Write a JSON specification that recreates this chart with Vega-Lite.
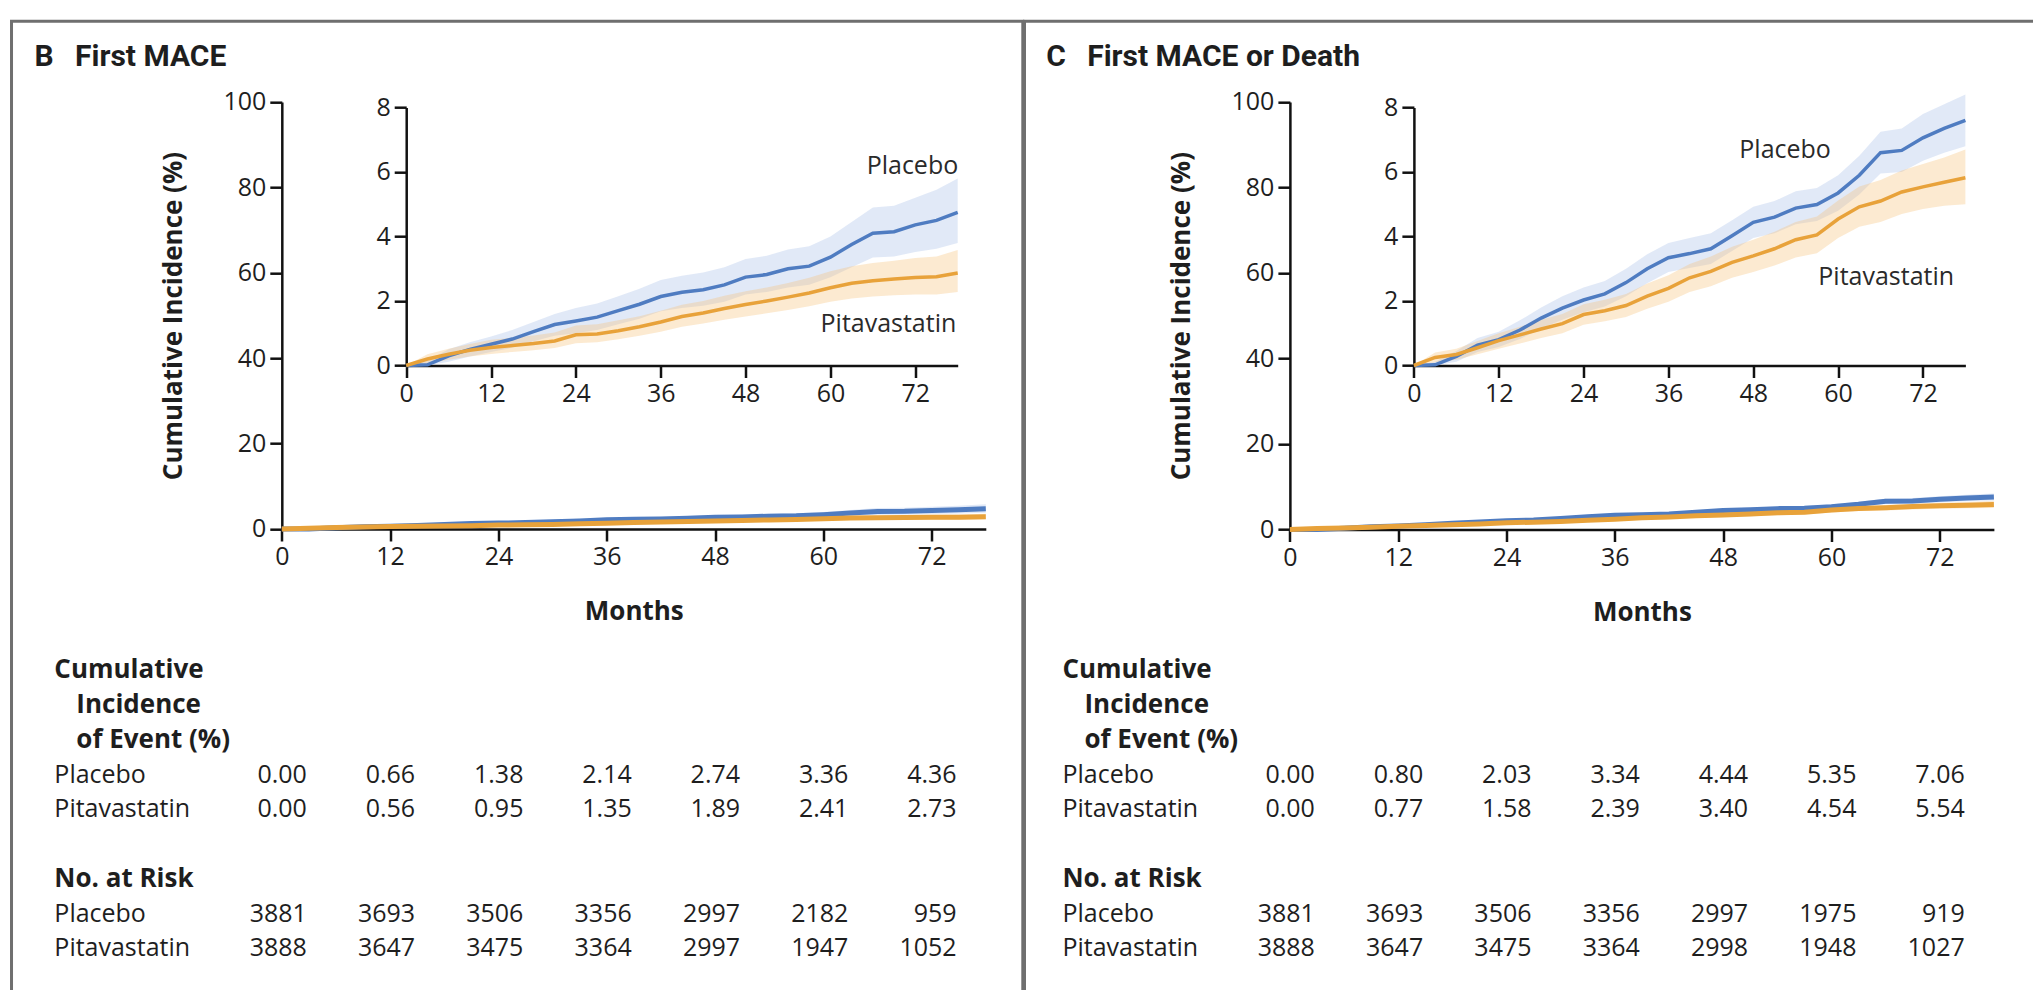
{
  "$schema": "https://vega.github.io/schema/vega-lite/v6.json",
  "background": "white",
  "padding": {"left": 9.5, "top": 19.2, "right": 0, "bottom": 0},
  "spacing": -3,
  "datasets": {
    "titles": [
      {"panel":"B","title":"B\u2002\u2009First MACE"},
      {"panel":"C","title":"C\u2002\u2009First MACE or Death"}
    ],
    "curves": [
      {"panel":"B","group":"Placebo","month":0,"v":0,"lo":0,"hi":0},
      {"panel":"B","group":"Placebo","month":3,"v":0.02,"lo":0,"hi":0.15},
      {"panel":"B","group":"Placebo","month":6,"v":0.3,"lo":0.12,"hi":0.5},
      {"panel":"B","group":"Placebo","month":9,"v":0.5,"lo":0.28,"hi":0.72},
      {"panel":"B","group":"Placebo","month":12,"v":0.66,"lo":0.42,"hi":0.9},
      {"panel":"B","group":"Placebo","month":15,"v":0.82,"lo":0.55,"hi":1.1},
      {"panel":"B","group":"Placebo","month":18,"v":1.05,"lo":0.75,"hi":1.35},
      {"panel":"B","group":"Placebo","month":21,"v":1.27,"lo":0.92,"hi":1.6},
      {"panel":"B","group":"Placebo","month":24,"v":1.38,"lo":1.0,"hi":1.78},
      {"panel":"B","group":"Placebo","month":27,"v":1.5,"lo":1.1,"hi":1.92},
      {"panel":"B","group":"Placebo","month":30,"v":1.7,"lo":1.28,"hi":2.15},
      {"panel":"B","group":"Placebo","month":33,"v":1.9,"lo":1.45,"hi":2.38},
      {"panel":"B","group":"Placebo","month":36,"v":2.14,"lo":1.68,"hi":2.65},
      {"panel":"B","group":"Placebo","month":39,"v":2.27,"lo":1.78,"hi":2.78},
      {"panel":"B","group":"Placebo","month":42,"v":2.35,"lo":1.85,"hi":2.88},
      {"panel":"B","group":"Placebo","month":45,"v":2.5,"lo":1.98,"hi":3.05},
      {"panel":"B","group":"Placebo","month":48,"v":2.74,"lo":2.2,"hi":3.3},
      {"panel":"B","group":"Placebo","month":51,"v":2.82,"lo":2.28,"hi":3.4},
      {"panel":"B","group":"Placebo","month":54,"v":3.0,"lo":2.42,"hi":3.6},
      {"panel":"B","group":"Placebo","month":57,"v":3.08,"lo":2.5,"hi":3.7},
      {"panel":"B","group":"Placebo","month":60,"v":3.36,"lo":2.74,"hi":4.0},
      {"panel":"B","group":"Placebo","month":63,"v":3.75,"lo":3.05,"hi":4.45},
      {"panel":"B","group":"Placebo","month":66,"v":4.1,"lo":3.35,"hi":4.9},
      {"panel":"B","group":"Placebo","month":69,"v":4.15,"lo":3.38,"hi":4.95},
      {"panel":"B","group":"Placebo","month":72,"v":4.36,"lo":3.52,"hi":5.2},
      {"panel":"B","group":"Placebo","month":75,"v":4.5,"lo":3.62,"hi":5.45},
      {"panel":"B","group":"Placebo","month":78,"v":4.75,"lo":3.8,"hi":5.8},
      {"panel":"B","group":"Pitavastatin","month":0,"v":0,"lo":0,"hi":0},
      {"panel":"B","group":"Pitavastatin","month":3,"v":0.2,"lo":0.06,"hi":0.35},
      {"panel":"B","group":"Pitavastatin","month":6,"v":0.35,"lo":0.18,"hi":0.52},
      {"panel":"B","group":"Pitavastatin","month":9,"v":0.47,"lo":0.28,"hi":0.67},
      {"panel":"B","group":"Pitavastatin","month":12,"v":0.56,"lo":0.36,"hi":0.8},
      {"panel":"B","group":"Pitavastatin","month":15,"v":0.62,"lo":0.42,"hi":0.86},
      {"panel":"B","group":"Pitavastatin","month":18,"v":0.68,"lo":0.47,"hi":0.93},
      {"panel":"B","group":"Pitavastatin","month":21,"v":0.76,"lo":0.54,"hi":1.02},
      {"panel":"B","group":"Pitavastatin","month":24,"v":0.95,"lo":0.69,"hi":1.24},
      {"panel":"B","group":"Pitavastatin","month":27,"v":0.98,"lo":0.72,"hi":1.28},
      {"panel":"B","group":"Pitavastatin","month":30,"v":1.08,"lo":0.81,"hi":1.4},
      {"panel":"B","group":"Pitavastatin","month":33,"v":1.2,"lo":0.92,"hi":1.53},
      {"panel":"B","group":"Pitavastatin","month":36,"v":1.35,"lo":1.05,"hi":1.7},
      {"panel":"B","group":"Pitavastatin","month":39,"v":1.52,"lo":1.2,"hi":1.88},
      {"panel":"B","group":"Pitavastatin","month":42,"v":1.63,"lo":1.3,"hi":2.0},
      {"panel":"B","group":"Pitavastatin","month":45,"v":1.77,"lo":1.42,"hi":2.16},
      {"panel":"B","group":"Pitavastatin","month":48,"v":1.89,"lo":1.52,"hi":2.3},
      {"panel":"B","group":"Pitavastatin","month":51,"v":2.0,"lo":1.62,"hi":2.42},
      {"panel":"B","group":"Pitavastatin","month":54,"v":2.12,"lo":1.72,"hi":2.56},
      {"panel":"B","group":"Pitavastatin","month":57,"v":2.25,"lo":1.84,"hi":2.72},
      {"panel":"B","group":"Pitavastatin","month":60,"v":2.41,"lo":1.98,"hi":2.92},
      {"panel":"B","group":"Pitavastatin","month":63,"v":2.55,"lo":2.08,"hi":3.08},
      {"panel":"B","group":"Pitavastatin","month":66,"v":2.63,"lo":2.14,"hi":3.18},
      {"panel":"B","group":"Pitavastatin","month":69,"v":2.68,"lo":2.18,"hi":3.25},
      {"panel":"B","group":"Pitavastatin","month":72,"v":2.73,"lo":2.2,"hi":3.33},
      {"panel":"B","group":"Pitavastatin","month":75,"v":2.75,"lo":2.2,"hi":3.38},
      {"panel":"B","group":"Pitavastatin","month":78,"v":2.87,"lo":2.28,"hi":3.58},
      {"panel":"C","group":"Placebo","month":0,"v":0,"lo":0,"hi":0},
      {"panel":"C","group":"Placebo","month":3,"v":0.02,"lo":0,"hi":0.12},
      {"panel":"C","group":"Placebo","month":6,"v":0.28,"lo":0.12,"hi":0.45},
      {"panel":"C","group":"Placebo","month":9,"v":0.63,"lo":0.42,"hi":0.85},
      {"panel":"C","group":"Placebo","month":12,"v":0.8,"lo":0.57,"hi":1.05},
      {"panel":"C","group":"Placebo","month":15,"v":1.1,"lo":0.82,"hi":1.4},
      {"panel":"C","group":"Placebo","month":18,"v":1.47,"lo":1.15,"hi":1.8},
      {"panel":"C","group":"Placebo","month":21,"v":1.78,"lo":1.42,"hi":2.15},
      {"panel":"C","group":"Placebo","month":24,"v":2.03,"lo":1.65,"hi":2.42},
      {"panel":"C","group":"Placebo","month":27,"v":2.22,"lo":1.83,"hi":2.62},
      {"panel":"C","group":"Placebo","month":30,"v":2.57,"lo":2.15,"hi":3.0},
      {"panel":"C","group":"Placebo","month":33,"v":3.0,"lo":2.55,"hi":3.45},
      {"panel":"C","group":"Placebo","month":36,"v":3.34,"lo":2.9,"hi":3.8},
      {"panel":"C","group":"Placebo","month":39,"v":3.47,"lo":3.02,"hi":3.95},
      {"panel":"C","group":"Placebo","month":42,"v":3.62,"lo":3.15,"hi":4.1},
      {"panel":"C","group":"Placebo","month":45,"v":4.02,"lo":3.55,"hi":4.5},
      {"panel":"C","group":"Placebo","month":48,"v":4.44,"lo":3.95,"hi":4.92},
      {"panel":"C","group":"Placebo","month":51,"v":4.6,"lo":4.1,"hi":5.1},
      {"panel":"C","group":"Placebo","month":54,"v":4.88,"lo":4.38,"hi":5.4},
      {"panel":"C","group":"Placebo","month":57,"v":4.99,"lo":4.48,"hi":5.5},
      {"panel":"C","group":"Placebo","month":60,"v":5.35,"lo":4.8,"hi":5.9},
      {"panel":"C","group":"Placebo","month":63,"v":5.9,"lo":5.3,"hi":6.5},
      {"panel":"C","group":"Placebo","month":66,"v":6.6,"lo":5.95,"hi":7.25},
      {"panel":"C","group":"Placebo","month":69,"v":6.67,"lo":6.0,"hi":7.35},
      {"panel":"C","group":"Placebo","month":72,"v":7.06,"lo":6.35,"hi":7.8},
      {"panel":"C","group":"Placebo","month":75,"v":7.35,"lo":6.6,"hi":8.1},
      {"panel":"C","group":"Placebo","month":78,"v":7.6,"lo":6.8,"hi":8.4},
      {"panel":"C","group":"Pitavastatin","month":0,"v":0,"lo":0,"hi":0},
      {"panel":"C","group":"Pitavastatin","month":3,"v":0.25,"lo":0.1,"hi":0.4},
      {"panel":"C","group":"Pitavastatin","month":6,"v":0.34,"lo":0.18,"hi":0.52},
      {"panel":"C","group":"Pitavastatin","month":9,"v":0.55,"lo":0.35,"hi":0.76},
      {"panel":"C","group":"Pitavastatin","month":12,"v":0.77,"lo":0.52,"hi":1.0},
      {"panel":"C","group":"Pitavastatin","month":15,"v":0.95,"lo":0.68,"hi":1.2},
      {"panel":"C","group":"Pitavastatin","month":18,"v":1.13,"lo":0.85,"hi":1.42},
      {"panel":"C","group":"Pitavastatin","month":21,"v":1.3,"lo":1.0,"hi":1.6},
      {"panel":"C","group":"Pitavastatin","month":24,"v":1.58,"lo":1.26,"hi":1.9},
      {"panel":"C","group":"Pitavastatin","month":27,"v":1.7,"lo":1.37,"hi":2.04},
      {"panel":"C","group":"Pitavastatin","month":30,"v":1.86,"lo":1.5,"hi":2.22},
      {"panel":"C","group":"Pitavastatin","month":33,"v":2.15,"lo":1.76,"hi":2.54},
      {"panel":"C","group":"Pitavastatin","month":36,"v":2.39,"lo":1.98,"hi":2.8},
      {"panel":"C","group":"Pitavastatin","month":39,"v":2.72,"lo":2.28,"hi":3.15},
      {"panel":"C","group":"Pitavastatin","month":42,"v":2.92,"lo":2.46,"hi":3.38},
      {"panel":"C","group":"Pitavastatin","month":45,"v":3.2,"lo":2.72,"hi":3.68},
      {"panel":"C","group":"Pitavastatin","month":48,"v":3.4,"lo":2.9,"hi":3.9},
      {"panel":"C","group":"Pitavastatin","month":51,"v":3.62,"lo":3.1,"hi":4.15},
      {"panel":"C","group":"Pitavastatin","month":54,"v":3.9,"lo":3.35,"hi":4.45},
      {"panel":"C","group":"Pitavastatin","month":57,"v":4.05,"lo":3.48,"hi":4.62},
      {"panel":"C","group":"Pitavastatin","month":60,"v":4.54,"lo":3.95,"hi":5.12},
      {"panel":"C","group":"Pitavastatin","month":63,"v":4.92,"lo":4.3,"hi":5.55},
      {"panel":"C","group":"Pitavastatin","month":66,"v":5.1,"lo":4.45,"hi":5.75},
      {"panel":"C","group":"Pitavastatin","month":69,"v":5.38,"lo":4.7,"hi":6.05},
      {"panel":"C","group":"Pitavastatin","month":72,"v":5.54,"lo":4.85,"hi":6.25},
      {"panel":"C","group":"Pitavastatin","month":75,"v":5.68,"lo":4.95,"hi":6.45},
      {"panel":"C","group":"Pitavastatin","month":78,"v":5.82,"lo":5.0,"hi":6.7}
    ],
    "curvelabels": [
      {"panel":"B","label":"Placebo","month":71.6,"v":6.2},
      {"panel":"B","label":"Pitavastatin","month":68.2,"v":1.3},
      {"panel":"C","label":"Placebo","month":52.5,"v":6.67},
      {"panel":"C","label":"Pitavastatin","month":66.8,"v":2.74}
    ],
    "rowlabels": [
      {"row":"h1","kind":"header","label":"Cumulative"},
      {"row":"h2","kind":"subheader","label":"Incidence"},
      {"row":"h3","kind":"subheader","label":"of Event (%)"},
      {"row":"ci_p","kind":"group","label":"Placebo"},
      {"row":"ci_s","kind":"group","label":"Pitavastatin"},
      {"row":"h4","kind":"header","label":"No. at Risk"},
      {"row":"nr_p","kind":"group","label":"Placebo"},
      {"row":"nr_s","kind":"group","label":"Pitavastatin"}
    ],
    "table": [
      {"panel":"B","row":"ci_p","month":0,"text":"0.00"},
      {"panel":"B","row":"ci_p","month":12,"text":"0.66"},
      {"panel":"B","row":"ci_p","month":24,"text":"1.38"},
      {"panel":"B","row":"ci_p","month":36,"text":"2.14"},
      {"panel":"B","row":"ci_p","month":48,"text":"2.74"},
      {"panel":"B","row":"ci_p","month":60,"text":"3.36"},
      {"panel":"B","row":"ci_p","month":72,"text":"4.36"},
      {"panel":"B","row":"ci_s","month":0,"text":"0.00"},
      {"panel":"B","row":"ci_s","month":12,"text":"0.56"},
      {"panel":"B","row":"ci_s","month":24,"text":"0.95"},
      {"panel":"B","row":"ci_s","month":36,"text":"1.35"},
      {"panel":"B","row":"ci_s","month":48,"text":"1.89"},
      {"panel":"B","row":"ci_s","month":60,"text":"2.41"},
      {"panel":"B","row":"ci_s","month":72,"text":"2.73"},
      {"panel":"B","row":"nr_p","month":0,"text":"3881"},
      {"panel":"B","row":"nr_p","month":12,"text":"3693"},
      {"panel":"B","row":"nr_p","month":24,"text":"3506"},
      {"panel":"B","row":"nr_p","month":36,"text":"3356"},
      {"panel":"B","row":"nr_p","month":48,"text":"2997"},
      {"panel":"B","row":"nr_p","month":60,"text":"2182"},
      {"panel":"B","row":"nr_p","month":72,"text":"959"},
      {"panel":"B","row":"nr_s","month":0,"text":"3888"},
      {"panel":"B","row":"nr_s","month":12,"text":"3647"},
      {"panel":"B","row":"nr_s","month":24,"text":"3475"},
      {"panel":"B","row":"nr_s","month":36,"text":"3364"},
      {"panel":"B","row":"nr_s","month":48,"text":"2997"},
      {"panel":"B","row":"nr_s","month":60,"text":"1947"},
      {"panel":"B","row":"nr_s","month":72,"text":"1052"},
      {"panel":"C","row":"ci_p","month":0,"text":"0.00"},
      {"panel":"C","row":"ci_p","month":12,"text":"0.80"},
      {"panel":"C","row":"ci_p","month":24,"text":"2.03"},
      {"panel":"C","row":"ci_p","month":36,"text":"3.34"},
      {"panel":"C","row":"ci_p","month":48,"text":"4.44"},
      {"panel":"C","row":"ci_p","month":60,"text":"5.35"},
      {"panel":"C","row":"ci_p","month":72,"text":"7.06"},
      {"panel":"C","row":"ci_s","month":0,"text":"0.00"},
      {"panel":"C","row":"ci_s","month":12,"text":"0.77"},
      {"panel":"C","row":"ci_s","month":24,"text":"1.58"},
      {"panel":"C","row":"ci_s","month":36,"text":"2.39"},
      {"panel":"C","row":"ci_s","month":48,"text":"3.40"},
      {"panel":"C","row":"ci_s","month":60,"text":"4.54"},
      {"panel":"C","row":"ci_s","month":72,"text":"5.54"},
      {"panel":"C","row":"nr_p","month":0,"text":"3881"},
      {"panel":"C","row":"nr_p","month":12,"text":"3693"},
      {"panel":"C","row":"nr_p","month":24,"text":"3506"},
      {"panel":"C","row":"nr_p","month":36,"text":"3356"},
      {"panel":"C","row":"nr_p","month":48,"text":"2997"},
      {"panel":"C","row":"nr_p","month":60,"text":"1975"},
      {"panel":"C","row":"nr_p","month":72,"text":"919"},
      {"panel":"C","row":"nr_s","month":0,"text":"3888"},
      {"panel":"C","row":"nr_s","month":12,"text":"3647"},
      {"panel":"C","row":"nr_s","month":24,"text":"3475"},
      {"panel":"C","row":"nr_s","month":36,"text":"3364"},
      {"panel":"C","row":"nr_s","month":48,"text":"2998"},
      {"panel":"C","row":"nr_s","month":60,"text":"1948"},
      {"panel":"C","row":"nr_s","month":72,"text":"1027"}
    ]
  },
  "hconcat": [
    {
      "width": 1011.3,
      "height": 980,
      "view": {"stroke": "#6f6f6f", "strokeWidth": 3},
      "layer": [
        {
          "layer": [
            {
              "data": {"name": "curves"},
              "transform": [{"filter": "datum.panel === 'B'"}],
              "layer": [
                {
                  "mark": {"type": "area", "fillOpacity": 0.35},
                  "encoding": {
                    "x": {"field": "month", "type": "quantitative", "scale": {"domain": [0, 78], "range": [270.3, 974.3], "nice": false},
                      "axis": {"orient": "bottom", "offset": -472.2, "values": [0, 12, 24, 36, 48, 60, 72], "title": "Months", "titleY": 83, "titleBaseline": "middle"}},
                    "y": {"field": "lo", "type": "quantitative", "scale": {"domain": [0, 100], "range": [507.8, 80.8], "nice": false, "zero": false},
                      "axis": {"orient": "left", "offset": -270.3, "values": [0, 20, 40, 60, 80, 100], "title": "Cumulative Incidence (%)", "titleX": -108.5, "titleY": 294.3, "titleAngle": -90, "titleAlign": "center", "titleBaseline": "middle"}},
                    "y2": {"field": "hi"},
                    "fill": {"field": "group", "type": "nominal", "scale": {"domain": ["Placebo", "Pitavastatin"], "range": ["#a9bfe8", "#f6c27a"]}, "legend": null}
                  }
                },
                {
                  "mark": {"type": "line", "strokeWidth": 5},
                  "encoding": {
                    "x": {"field": "month", "type": "quantitative"},
                    "y": {"field": "v", "type": "quantitative"},
                    "stroke": {"field": "group", "type": "nominal", "scale": {"domain": ["Placebo", "Pitavastatin"], "range": ["#4f7cc1", "#e8a23a"]}, "legend": null}
                  }
                },
                {
                  "data": {"name": "titles"},
                  "transform": [{"filter": "datum.panel === 'B'"}],
                  "mark": {"type": "text", "align": "left", "baseline": "alphabetic", "font": "Roboto", "fontSize": 30, "fontWeight": "bold", "color": "#1e1e1e"},
                  "encoding": {
                    "x": {"datum": -27.4, "type": "quantitative"},
                    "y": {"datum": 108.4, "type": "quantitative"},
                    "text": {"field": "title"}
                  }
                }
              ]
            },
            {
              "data": {"name": "table"},
              "transform": [{"filter": "datum.panel === 'B'"}],
              "mark": {"type": "text", "align": "right", "baseline": "middle", "dx": 25, "font": "Open Sans", "fontSize": 25, "color": "#1e1e1e"},
              "encoding": {
                "x": {"field": "month", "type": "quantitative"},
                "y": {"field": "row", "type": "nominal", "axis": null, "scale": {"type": "point", "domain": ["h1", "h2", "h3", "ci_p", "ci_s", "gap", "h4", "nr_p", "nr_s"], "range": [649.3, 927.3], "padding": 0}},
                "text": {"field": "text"}
              }
            },
            {
              "data": {"name": "rowlabels"},
              "transform": [{"filter": "datum.kind === 'group'"}],
              "mark": {"type": "text", "align": "left", "baseline": "middle", "font": "Open Sans", "fontSize": 25, "color": "#1e1e1e"},
              "encoding": {
                "x": {"datum": -25.2, "type": "quantitative"},
                "y": {"field": "row", "type": "nominal", "axis": null, "scale": {"type": "point", "domain": ["h1", "h2", "h3", "ci_p", "ci_s", "gap", "h4", "nr_p", "nr_s"], "range": [649.3, 927.3], "padding": 0}},
                "text": {"field": "label"}
              }
            },
            {
              "data": {"name": "rowlabels"},
              "transform": [{"filter": "datum.kind === 'header'"}],
              "mark": {"type": "text", "align": "left", "baseline": "middle", "font": "Open Sans", "fontSize": 26, "fontWeight": "bold", "color": "#1e1e1e"},
              "encoding": {
                "x": {"datum": -25.2, "type": "quantitative"},
                "y": {"field": "row", "type": "nominal", "axis": null, "scale": {"type": "point", "domain": ["h1", "h2", "h3", "ci_p", "ci_s", "gap", "h4", "nr_p", "nr_s"], "range": [649.3, 927.3], "padding": 0}},
                "text": {"field": "label"}
              }
            },
            {
              "data": {"name": "rowlabels"},
              "transform": [{"filter": "datum.kind === 'subheader'"}],
              "mark": {"type": "text", "align": "left", "baseline": "middle", "dx": 22, "font": "Open Sans", "fontSize": 26, "fontWeight": "bold", "color": "#1e1e1e"},
              "encoding": {
                "x": {"datum": -25.2, "type": "quantitative"},
                "y": {"field": "row", "type": "nominal", "axis": null, "scale": {"type": "point", "domain": ["h1", "h2", "h3", "ci_p", "ci_s", "gap", "h4", "nr_p", "nr_s"], "range": [649.3, 927.3], "padding": 0}},
                "text": {"field": "label"}
              }
            }
          ],
          "resolve": {"scale": {"y": "independent"}, "axis": {"y": "independent"}}
        },
        {
          "layer": [
            {
              "data": {"name": "curves"},
              "transform": [{"filter": "datum.panel === 'B'"}],
              "layer": [
                {
                  "mark": {"type": "area", "fillOpacity": 0.35},
                  "encoding": {
                    "x": {"field": "month", "type": "quantitative", "scale": {"domain": [0, 78], "range": [394.7, 946.2], "nice": false},
                      "axis": {"orient": "bottom", "offset": -635.7, "values": [0, 12, 24, 36, 48, 60, 72], "title": null}},
                    "y": {"field": "lo", "type": "quantitative", "scale": {"domain": [0, 8], "range": [344.3, 86.3], "nice": false, "zero": false},
                      "axis": {"orient": "left", "offset": -394.7, "values": [0, 2, 4, 6, 8], "format": "d", "title": null}},
                    "y2": {"field": "hi"},
                    "fill": {"field": "group", "type": "nominal", "scale": {"domain": ["Placebo", "Pitavastatin"], "range": ["#a9bfe8", "#f6c27a"]}, "legend": null}
                  }
                },
                {
                  "mark": {"type": "line", "strokeWidth": 3.5},
                  "encoding": {
                    "x": {"field": "month", "type": "quantitative"},
                    "y": {"field": "v", "type": "quantitative"},
                    "stroke": {"field": "group", "type": "nominal", "scale": {"domain": ["Placebo", "Pitavastatin"], "range": ["#4f7cc1", "#e8a23a"]}, "legend": null}
                  }
                }
              ]
            },
            {
              "data": {"name": "curvelabels"},
              "transform": [{"filter": "datum.panel === 'B'"}],
              "mark": {"type": "text", "align": "center", "baseline": "middle", "font": "Open Sans", "fontSize": 25, "color": "#2a2a2a"},
              "encoding": {
                "x": {"field": "month", "type": "quantitative"},
                "y": {"field": "v", "type": "quantitative"},
                "text": {"field": "label"}
              }
            }
          ]
        }
      ],
      "resolve": {"scale": {"x": "independent", "y": "independent"}, "axis": {"x": "independent", "y": "independent"}}
    },
    {
      "width": 1011,
      "height": 980,
      "view": {"stroke": "#6f6f6f", "strokeWidth": 3},
      "layer": [
        {
          "layer": [
            {
              "data": {"name": "curves"},
              "transform": [{"filter": "datum.panel === 'C'"}],
              "layer": [
                {
                  "mark": {"type": "area", "fillOpacity": 0.35},
                  "encoding": {
                    "x": {"field": "month", "type": "quantitative", "scale": {"domain": [0, 78], "range": [265.4, 969.4], "nice": false},
                      "axis": {"orient": "bottom", "offset": -471.7, "values": [0, 12, 24, 36, 48, 60, 72], "title": "Months", "titleY": 83, "titleBaseline": "middle"}},
                    "y": {"field": "lo", "type": "quantitative", "scale": {"domain": [0, 100], "range": [508.3, 80.8], "nice": false, "zero": false},
                      "axis": {"orient": "left", "offset": -265.4, "values": [0, 20, 40, 60, 80, 100], "title": "Cumulative Incidence (%)", "titleX": -108.5, "titleY": 294.5, "titleAngle": -90, "titleAlign": "center", "titleBaseline": "middle"}},
                    "y2": {"field": "hi"},
                    "fill": {"field": "group", "type": "nominal", "scale": {"domain": ["Placebo", "Pitavastatin"], "range": ["#a9bfe8", "#f6c27a"]}, "legend": null}
                  }
                },
                {
                  "mark": {"type": "line", "strokeWidth": 5},
                  "encoding": {
                    "x": {"field": "month", "type": "quantitative"},
                    "y": {"field": "v", "type": "quantitative"},
                    "stroke": {"field": "group", "type": "nominal", "scale": {"domain": ["Placebo", "Pitavastatin"], "range": ["#4f7cc1", "#e8a23a"]}, "legend": null}
                  }
                },
                {
                  "data": {"name": "titles"},
                  "transform": [{"filter": "datum.panel === 'C'"}],
                  "mark": {"type": "text", "align": "left", "baseline": "alphabetic", "font": "Roboto", "fontSize": 30, "fontWeight": "bold", "color": "#1e1e1e"},
                  "encoding": {
                    "x": {"datum": -27.0, "type": "quantitative"},
                    "y": {"datum": 108.4, "type": "quantitative"},
                    "text": {"field": "title"}
                  }
                }
              ]
            },
            {
              "data": {"name": "table"},
              "transform": [{"filter": "datum.panel === 'C'"}],
              "mark": {"type": "text", "align": "right", "baseline": "middle", "dx": 25, "font": "Open Sans", "fontSize": 25, "color": "#1e1e1e"},
              "encoding": {
                "x": {"field": "month", "type": "quantitative"},
                "y": {"field": "row", "type": "nominal", "axis": null, "scale": {"type": "point", "domain": ["h1", "h2", "h3", "ci_p", "ci_s", "gap", "h4", "nr_p", "nr_s"], "range": [649.3, 927.3], "padding": 0}},
                "text": {"field": "text"}
              }
            },
            {
              "data": {"name": "rowlabels"},
              "transform": [{"filter": "datum.kind === 'group'"}],
              "mark": {"type": "text", "align": "left", "baseline": "middle", "font": "Open Sans", "fontSize": 25, "color": "#1e1e1e"},
              "encoding": {
                "x": {"datum": -25.2, "type": "quantitative"},
                "y": {"field": "row", "type": "nominal", "axis": null, "scale": {"type": "point", "domain": ["h1", "h2", "h3", "ci_p", "ci_s", "gap", "h4", "nr_p", "nr_s"], "range": [649.3, 927.3], "padding": 0}},
                "text": {"field": "label"}
              }
            },
            {
              "data": {"name": "rowlabels"},
              "transform": [{"filter": "datum.kind === 'header'"}],
              "mark": {"type": "text", "align": "left", "baseline": "middle", "font": "Open Sans", "fontSize": 26, "fontWeight": "bold", "color": "#1e1e1e"},
              "encoding": {
                "x": {"datum": -25.2, "type": "quantitative"},
                "y": {"field": "row", "type": "nominal", "axis": null, "scale": {"type": "point", "domain": ["h1", "h2", "h3", "ci_p", "ci_s", "gap", "h4", "nr_p", "nr_s"], "range": [649.3, 927.3], "padding": 0}},
                "text": {"field": "label"}
              }
            },
            {
              "data": {"name": "rowlabels"},
              "transform": [{"filter": "datum.kind === 'subheader'"}],
              "mark": {"type": "text", "align": "left", "baseline": "middle", "dx": 22, "font": "Open Sans", "fontSize": 26, "fontWeight": "bold", "color": "#1e1e1e"},
              "encoding": {
                "x": {"datum": -25.2, "type": "quantitative"},
                "y": {"field": "row", "type": "nominal", "axis": null, "scale": {"type": "point", "domain": ["h1", "h2", "h3", "ci_p", "ci_s", "gap", "h4", "nr_p", "nr_s"], "range": [649.3, 927.3], "padding": 0}},
                "text": {"field": "label"}
              }
            }
          ],
          "resolve": {"scale": {"y": "independent"}, "axis": {"y": "independent"}}
        },
        {
          "layer": [
            {
              "data": {"name": "curves"},
              "transform": [{"filter": "datum.panel === 'C'"}],
              "layer": [
                {
                  "mark": {"type": "area", "fillOpacity": 0.35},
                  "encoding": {
                    "x": {"field": "month", "type": "quantitative", "scale": {"domain": [0, 78], "range": [389.4, 940.9], "nice": false},
                      "axis": {"orient": "bottom", "offset": -635.7, "values": [0, 12, 24, 36, 48, 60, 72], "title": null}},
                    "y": {"field": "lo", "type": "quantitative", "scale": {"domain": [0, 8], "range": [344.3, 86.3], "nice": false, "zero": false},
                      "axis": {"orient": "left", "offset": -389.4, "values": [0, 2, 4, 6, 8], "format": "d", "title": null}},
                    "y2": {"field": "hi"},
                    "fill": {"field": "group", "type": "nominal", "scale": {"domain": ["Placebo", "Pitavastatin"], "range": ["#a9bfe8", "#f6c27a"]}, "legend": null}
                  }
                },
                {
                  "mark": {"type": "line", "strokeWidth": 3.5},
                  "encoding": {
                    "x": {"field": "month", "type": "quantitative"},
                    "y": {"field": "v", "type": "quantitative"},
                    "stroke": {"field": "group", "type": "nominal", "scale": {"domain": ["Placebo", "Pitavastatin"], "range": ["#4f7cc1", "#e8a23a"]}, "legend": null}
                  }
                }
              ]
            },
            {
              "data": {"name": "curvelabels"},
              "transform": [{"filter": "datum.panel === 'C'"}],
              "mark": {"type": "text", "align": "center", "baseline": "middle", "font": "Open Sans", "fontSize": 25, "color": "#2a2a2a"},
              "encoding": {
                "x": {"field": "month", "type": "quantitative"},
                "y": {"field": "v", "type": "quantitative"},
                "text": {"field": "label"}
              }
            }
          ]
        }
      ],
      "resolve": {"scale": {"x": "independent", "y": "independent"}, "axis": {"x": "independent", "y": "independent"}}
    }
  ],
  "resolve": {"scale": {"x": "independent", "y": "independent", "fill": "independent", "stroke": "independent"}},
  "config": {
    "font": "Open Sans",
    "axis": {
      "domainColor": "#111111", "domainWidth": 2.5, "tickColor": "#111111", "tickWidth": 2.5, "tickSize": 12,
      "labelFont": "Open Sans", "labelFontSize": 25, "labelColor": "#1e1e1e", "labelPadding": 4,
      "labelFlush": false, "labelOverlap": false, "grid": false,
      "titleFont": "Open Sans", "titleFontSize": 26, "titleFontWeight": "bold", "titleColor": "#1e1e1e"
    }
  }
}
